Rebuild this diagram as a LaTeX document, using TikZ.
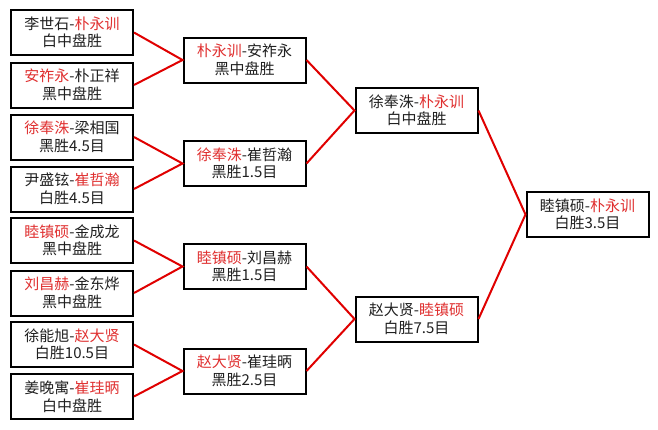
\documentclass[tikz,border=0pt]{standalone}
\usepackage{fontspec}
\setmainfont{Noto Sans CJK SC}
\definecolor{linered}{HTML}{E00000}
\definecolor{txtred}{HTML}{E03030}
\definecolor{txtblk}{HTML}{202020}
\newcommand{\rd}[1]{\textcolor{txtred}{#1}}
\begin{document}
\begin{tikzpicture}[x=1pt,y=-1pt,
  box/.style={draw=black,line width=2pt,minimum width=122pt,minimum height=45pt,
    inner sep=0pt,align=center,font=\fontsize{15}{17.5}\selectfont,text=txtblk},
  conn/.style={draw=linered,line width=2pt}]
\useasboundingbox[fill=white] (0,0) rectangle (658,429);
% round 1
\node[box] (a1) at (72,32.5) {李世石-\rd{朴永训}\\白中盘胜};
\node[box] (a2) at (72,85) {\rd{安祚永}-朴正祥\\黑中盘胜};
\node[box] (a3) at (72,137) {\rd{徐奉洙}-梁相国\\黑胜4.5目};
\node[box] (a4) at (72,189) {尹盛铉-\rd{崔哲瀚}\\白胜4.5目};
\node[box] (a5) at (72,240.5) {\rd{睦镇硕}-金成龙\\黑中盘胜};
\node[box] (a6) at (72,293) {\rd{刘昌赫}-金东烨\\黑中盘胜};
\node[box] (a7) at (72,344.5) {徐能旭-\rd{赵大贤}\\白胜10.5目};
\node[box] (a8) at (72,396.5) {姜晚寓-\rd{崔珪昞}\\白中盘胜};
% round 2
\node[box] (b1) at (244.5,60) {\rd{朴永训}-安祚永\\黑中盘胜};
\node[box] (b2) at (244.5,163.5) {\rd{徐奉洙}-崔哲瀚\\黑胜1.5目};
\node[box] (b3) at (244.5,266.5) {\rd{睦镇硕}-刘昌赫\\黑胜1.5目};
\node[box] (b4) at (244.5,371) {\rd{赵大贤}-崔珪昞\\黑胜2.5目};
% round 3
\node[box] (c1) at (416.5,110.5) {徐奉洙-\rd{朴永训}\\白中盘胜};
\node[box] (c2) at (416.5,319) {赵大贤-\rd{睦镇硕}\\白胜7.5目};
% final
\node[box] (d1) at (587.5,214.5) {睦镇硕-\rd{朴永训}\\白胜3.5目};
% connectors
\draw[conn] (a1.east) -- (b1.west) -- (a2.east);
\draw[conn] (a3.east) -- (b2.west) -- (a4.east);
\draw[conn] (a5.east) -- (b3.west) -- (a6.east);
\draw[conn] (a7.east) -- (b4.west) -- (a8.east);
\draw[conn] (b1.east) -- (c1.west) -- (b2.east);
\draw[conn] (b3.east) -- (c2.west) -- (b4.east);
\draw[conn] (c1.east) -- (d1.west) -- (c2.east);
\end{tikzpicture}
\end{document}
